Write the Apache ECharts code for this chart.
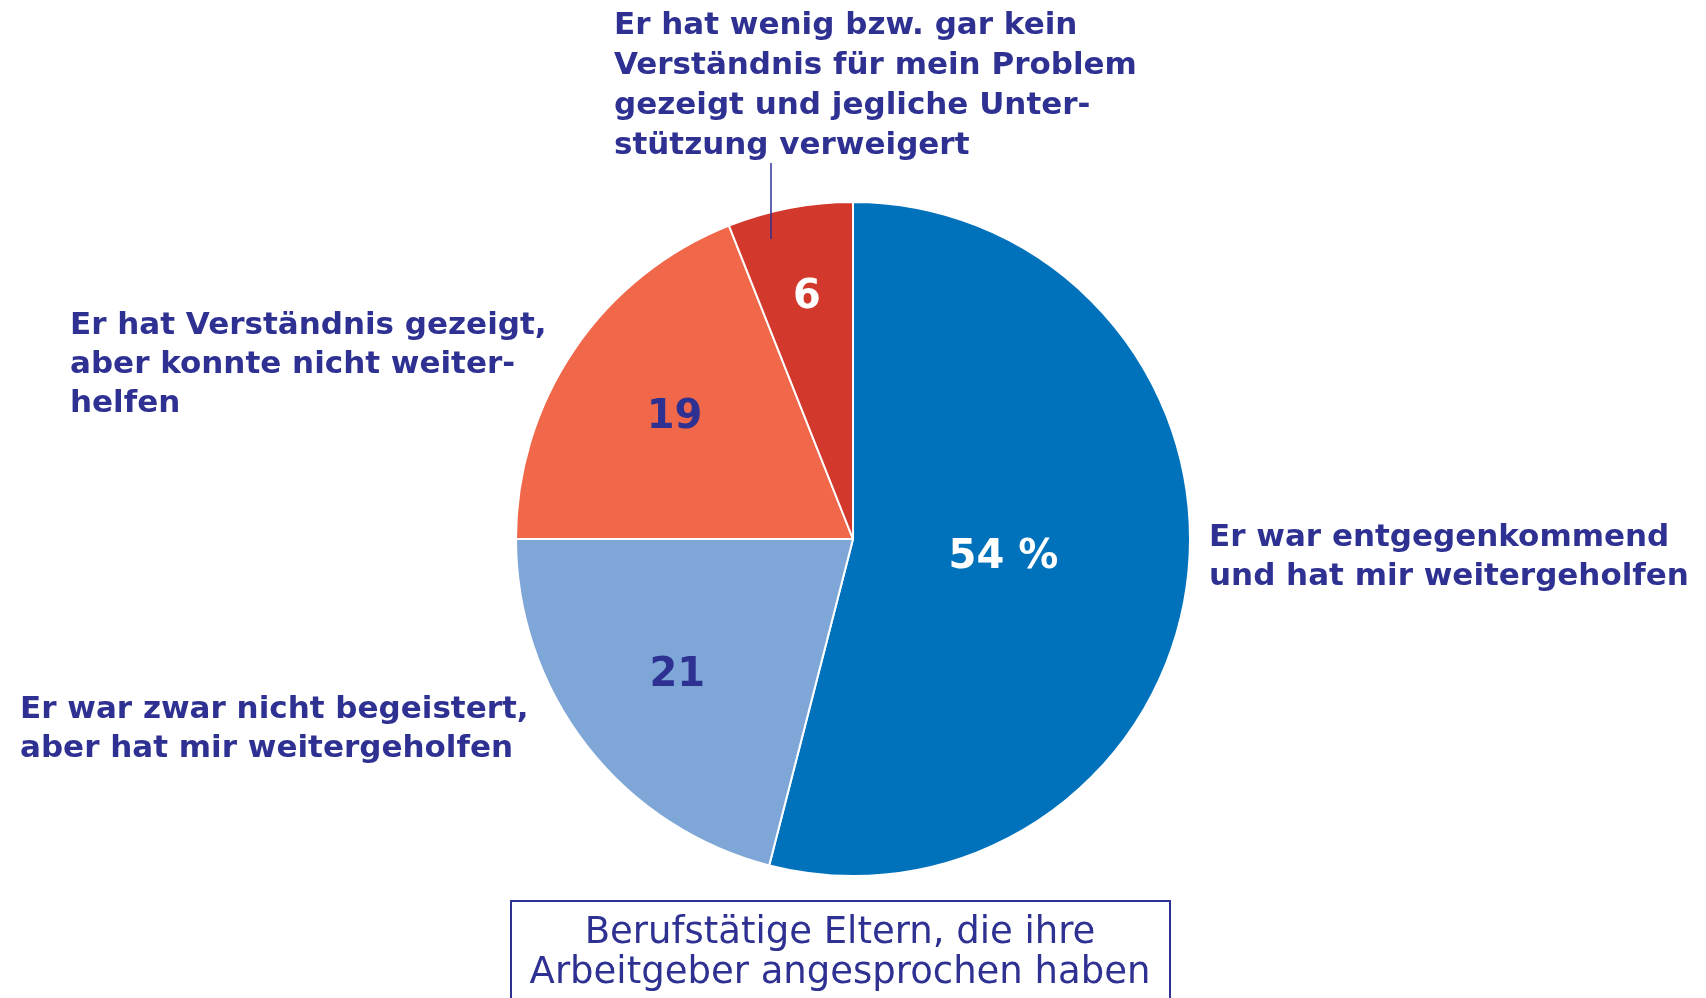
<!DOCTYPE html>
<html>
<head>
<meta charset="utf-8">
<script src="https://cdn.jsdelivr.net/npm/echarts@6/dist/echarts.min.js"></script>
<style>
  html, body { margin: 0; padding: 0; background: #fff; }
  #main { width: 1706px; height: 998px; }
</style>
</head>
<body>
<div id="main"></div>
<script>
var categories = [
    'Er war entgegenkommend und hat mir weitergeholfen',
    'Er war zwar nicht begeistert, aber hat mir weitergeholfen',
    'Er hat Verständnis gezeigt, aber konnte nicht weiterhelfen',
    'Er hat wenig bzw. gar kein Verständnis für mein Problem gezeigt und jegliche Unterstützung verweigert'
];
var values = [54, 21, 19, 6];
var colors = ['#0072BC', '#7EA7D8', '#F0674A', '#D2382B'];
var numberColors = ['#ffffff', '#2E3192', '#2E3192', '#ffffff'];
// how far out (share of radius) each number sits
var labelRadius = [0.45, 0.66, 0.64, 0.73];

var navy = '#2E3192';
var font = '"DejaVu Sans", sans-serif';
var cx = 853, cy = 539, R = 337;

var total = values.reduce(function (a, b) { return a + b; }, 0);
var midAngles = [];
var acc = 0;
values.forEach(function (v) {
    midAngles.push((acc + v / 2) / total * 2 * Math.PI);
    acc += v;
});

var chart = echarts.init(document.getElementById('main'));
var option = {
    animation: false,
    series: [
        {
            type: 'pie',
            center: [cx, cy],
            radius: [0, R],
            startAngle: 90,
            clockwise: true,
            itemStyle: { borderColor: '#fff', borderWidth: 2 },
            label: {
                show: true,
                position: 'inside',
                fontFamily: font,
                fontWeight: 'bold',
                fontSize: 40,
                formatter: function (p) {
                    return p.dataIndex === 0 ? p.value + ' %' : String(p.value);
                }
            },
            labelLine: { show: false },
            labelLayout: function (p) {
                var i = p.dataIndex;
                var a = midAngles[i];
                var r = R * labelRadius[i];
                return {
                    x: cx + Math.sin(a) * r,
                    y: cy - Math.cos(a) * r,
                    align: 'center',
                    verticalAlign: 'middle'
                };
            },
            emphasis: { disabled: true },
            data: values.map(function (v, i) {
                return {
                    name: categories[i],
                    value: v,
                    itemStyle: { color: colors[i] },
                    label: { color: numberColors[i] }
                };
            })
        }
    ],
    graphic: [
        {
            type: 'text', left: 1209, top: 518,
            style: {
                text: 'Er war entgegenkommend\nund hat mir weitergeholfen',
                font: 'bold 31px ' + font, fill: navy, lineHeight: 39
            }
        },
        {
            type: 'text', left: 20, top: 690,
            style: {
                text: 'Er war zwar nicht begeistert,\naber hat mir weitergeholfen',
                font: 'bold 31px ' + font, fill: navy, lineHeight: 39
            }
        },
        {
            type: 'text', left: 70, top: 306,
            style: {
                text: 'Er hat Verständnis gezeigt,\naber konnte nicht weiter-\nhelfen',
                font: 'bold 31px ' + font, fill: navy, lineHeight: 39
            }
        },
        {
            type: 'text', left: 614, top: 6,
            style: {
                text: 'Er hat wenig bzw. gar kein\nVerständnis für mein Problem\ngezeigt und jegliche Unter-\nstützung verweigert',
                font: 'bold 31px ' + font, fill: navy, lineHeight: 40
            }
        },
        {
            type: 'line',
            z: 10,
            shape: { x1: 771, y1: 163, x2: 771, y2: 239 },
            style: { stroke: navy, lineWidth: 1.5 }
        },
        {
            type: 'rect',
            shape: { x: 511, y: 901, width: 659, height: 120 },
            style: { fill: 'none', stroke: navy, lineWidth: 2 }
        },
        {
            type: 'text', x: 840, y: 913,
            style: {
                text: 'Berufstätige Eltern, die ihre\nArbeitgeber angesprochen haben',
                font: '37px ' + font, fill: navy, lineHeight: 40,
                align: 'center', verticalAlign: 'top'
            }
        }
    ]
};
chart.setOption(option);
</script>
</body>
</html>
